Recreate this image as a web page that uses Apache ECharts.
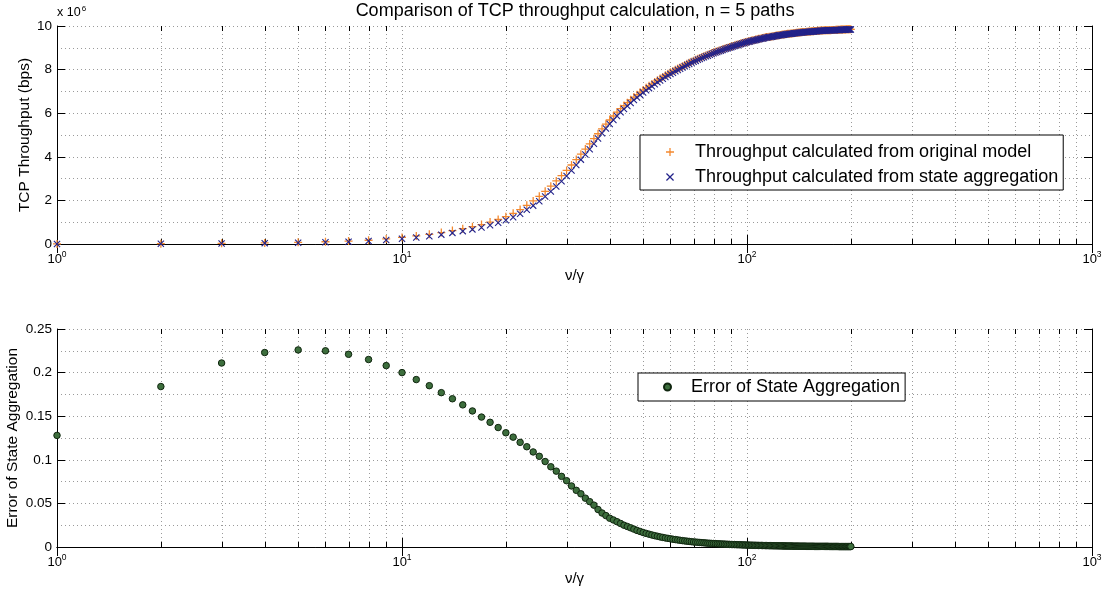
<!DOCTYPE html>
<html><head><meta charset="utf-8">
<script src="https://cdn.jsdelivr.net/npm/echarts@6/dist/echarts.min.js"></script>
<style>html,body{margin:0;padding:0;background:#fff}#c{width:1107px;height:592px}</style>
</head><body><div id="c"></div>
<script>
const xVals = [
1,2,3,4,5,6,7,8,9,10,11,12,13,14,15,16,17,18,19,20,
21,22,23,24,25,26,27,28,29,30,31,32,33,34,35,36,37,38,39,40,
41,42,43,44,45,46,47,48,49,50,51,52,53,54,55,56,57,58,59,60,
61,62,63,64,65,66,67,68,69,70,71,72,73,74,75,76,77,78,79,80,
81,82,83,84,85,86,87,88,89,90,91,92,93,94,95,96,97,98,99,100,
101,102,103,104,105,106,107,108,109,110,111,112,113,114,115,116,117,118,119,120,
121,122,123,124,125,126,127,128,129,130,131,132,133,134,135,136,137,138,139,140,
141,142,143,144,145,146,147,148,149,150,151,152,153,154,155,156,157,158,159,160,
161,162,163,164,165,166,167,168,169,170,171,172,173,174,175,176,177,178,179,180,
181,182,183,184,185,186,187,188,189,190,191,192,193,194,195,196,197,198,199,200];

// throughput in units of 10^6 bps
const thrOriginal = [
0.0034,0.0147,0.0317,0.0515,0.0749,0.103,0.135,0.172,0.234,0.300,
0.371,0.442,0.522,0.614,0.705,0.794,0.893,1.004,1.124,1.254,
1.407,1.580,1.774,1.975,2.188,2.417,2.654,2.892,3.134,3.377,
3.624,3.872,4.121,4.354,4.589,4.832,5.058,5.286,5.498,5.688,
5.872,6.045,6.208,6.349,6.482,6.616,6.738,6.850,6.964,7.067,
7.162,7.258,7.341,7.426,7.512,7.588,7.664,7.741,7.807,7.874,
7.931,7.988,8.045,8.102,8.159,8.207,8.265,8.313,8.361,8.409,
8.447,8.496,8.534,8.573,8.611,8.650,8.678,8.717,8.756,8.785,
8.814,8.843,8.872,8.901,8.930,8.960,8.988,9.008,9.037,9.056,
9.085,9.105,9.135,9.154,9.174,9.203,9.222,9.242,9.261,9.280,
9.30,9.31,9.33,9.35,9.36,9.38,9.39,9.41,9.42,9.44,
9.45,9.46,9.48,9.49,9.50,9.51,9.51,9.52,9.53,9.54,
9.55,9.56,9.57,9.58,9.59,9.60,9.61,9.61,9.62,9.63,
9.64,9.64,9.65,9.66,9.66,9.67,9.68,9.68,9.69,9.69,
9.70,9.70,9.71,9.71,9.72,9.72,9.73,9.73,9.74,9.74,
9.75,9.75,9.75,9.76,9.76,9.76,9.77,9.77,9.77,9.78,
9.78,9.78,9.79,9.79,9.79,9.79,9.80,9.80,9.80,9.80,
9.81,9.81,9.81,9.81,9.81,9.82,9.82,9.82,9.82,9.82,
9.83,9.83,9.83,9.83,9.83,9.83,9.84,9.84,9.84,9.84,
9.84,9.84,9.84,9.85,9.85,9.85,9.85,9.85,9.85,9.85];

const thrAggregated = [
0.003,0.012,0.025,0.040,0.058,0.080,0.105,0.135,0.185,0.24,
0.30,0.36,0.43,0.51,0.59,0.67,0.76,0.86,0.97,1.09,
1.23,1.39,1.57,1.76,1.96,2.18,2.41,2.64,2.88,3.12,
3.37,3.62,3.87,4.11,4.35,4.60,4.84,5.08,5.30,5.50,
5.69,5.87,6.04,6.19,6.33,6.47,6.60,6.72,6.84,6.95,
7.05,7.15,7.24,7.33,7.42,7.50,7.58,7.66,7.73,7.80,
7.86,7.92,7.98,8.04,8.10,8.15,8.21,8.26,8.31,8.36,
8.40,8.45,8.49,8.53,8.57,8.61,8.64,8.68,8.72,8.75,
8.78,8.81,8.84,8.87,8.90,8.93,8.96,8.98,9.01,9.03,
9.06,9.08,9.11,9.13,9.15,9.18,9.20,9.22,9.24,9.26,
9.28,9.29,9.31,9.33,9.34,9.36,9.37,9.39,9.40,9.42,
9.43,9.44,9.46,9.47,9.48,9.49,9.50,9.51,9.52,9.53,
9.54,9.55,9.56,9.57,9.58,9.59,9.60,9.60,9.61,9.62,
9.63,9.63,9.64,9.65,9.65,9.66,9.67,9.67,9.68,9.68,
9.69,9.69,9.70,9.70,9.71,9.71,9.72,9.72,9.73,9.73,
9.74,9.74,9.74,9.75,9.75,9.75,9.76,9.76,9.76,9.77,
9.77,9.77,9.78,9.78,9.78,9.78,9.79,9.79,9.79,9.79,
9.80,9.80,9.80,9.80,9.80,9.81,9.81,9.81,9.81,9.81,
9.82,9.82,9.82,9.82,9.82,9.82,9.83,9.83,9.83,9.83,
9.83,9.83,9.83,9.84,9.84,9.84,9.84,9.84,9.84,9.84];

const aggError = [
0.128,0.184,0.211,0.223,0.226,0.225,0.221,0.215,0.208,0.200,
0.192,0.185,0.177,0.170,0.163,0.156,0.149,0.143,0.137,0.131,
0.126,0.120,0.115,0.109,0.104,0.098,0.092,0.087,0.081,0.076,
0.070,0.065,0.061,0.056,0.052,0.048,0.043,0.039,0.036,0.033,
0.031,0.029,0.027,0.025,0.0235,0.022,0.0205,0.019,0.0178,0.0166,
0.0156,0.0147,0.0138,0.013,0.0123,0.0116,0.011,0.0104,0.0099,0.0094,
0.0089,0.0085,0.0081,0.0077,0.0073,0.007,0.0067,0.0064,0.0061,0.0058,
0.0056,0.0054,0.0052,0.005,0.0048,0.0046,0.0044,0.0043,0.0041,0.004,
0.0039,0.0037,0.0036,0.0035,0.0034,0.0033,0.0032,0.0031,0.003,0.0029,
0.0028,0.0028,0.0027,0.0026,0.0026,0.0025,0.0024,0.0024,0.0023,0.0022,
0.0022,0.0021,0.0021,0.0020,0.0020,0.0019,0.0019,0.0018,0.0018,0.0018,
0.0017,0.0017,0.0016,0.0016,0.0016,0.0015,0.0015,0.0015,0.0014,0.0014,
0.0014,0.0014,0.0013,0.0013,0.0013,0.0013,0.0012,0.0012,0.0012,0.0012,
0.0011,0.0011,0.0011,0.0011,0.0011,0.0010,0.0010,0.0010,0.0010,0.0010,
0.0010,0.0009,0.0009,0.0009,0.0009,0.0009,0.0009,0.0009,0.0008,0.0008,
0.0008,0.0008,0.0008,0.0008,0.0008,0.0008,0.0007,0.0007,0.0007,0.0007,
0.0007,0.0007,0.0007,0.0007,0.0007,0.0007,0.0007,0.0007,0.0007,0.0007,
0.0007,0.0007,0.0006,0.0006,0.0006,0.0006,0.0006,0.0006,0.0006,0.0006,
0.0006,0.0006,0.0006,0.0006,0.0005,0.0005,0.0005,0.0005,0.0005,0.0005,
0.0005,0.0005,0.0005,0.0005,0.0005,0.0005,0.0005,0.0005,0.0005,0.0005];

const xMajorTicks = [1, 10, 100, 1000];
const xMajorSup = ['0', '1', '2', '3'];
const xMinorTicks = [2,3,4,5,6,7,8,9,20,30,40,50,60,70,80,90,200,300,400,500,600,700,800,900];
const seriesNames = ['Throughput calculated from original model', 'Throughput calculated from state aggregation', 'Error of State Aggregation'];
const titleText = 'Comparison of TCP throughput calculation, n = 5 paths';

const F = '"Liberation Sans", Arial, Helvetica, sans-serif';
const GRID_DOT = {color: '#9a9a9a', width: 1, type: [1, 3]};

const chart = echarts.init(document.getElementById('c'), null, {renderer: 'canvas'});

function xLabelFmt(v) {
  let i = 0;
  for (let k = 0; k < xMajorTicks.length; k++) if (Math.abs(v - xMajorTicks[k]) / xMajorTicks[k] < 1e-6) i = k;
  return '{b|10}{s|' + xMajorSup[i] + '}';
}
const xRich = {
  b: {fontSize: 13, fontFamily: F, color: '#000', lineHeight: 16},
  s: {fontSize: 8.5, fontFamily: F, color: '#000', padding: [0, 0, 8, 0], lineHeight: 16}
};

function minorRender(params, api) {
  const cs = params.coordSys;
  const px = Math.round(api.coord([api.value(0), api.value(1)])[0]) + 0.5;
  const y0 = cs.y, y1 = cs.y + cs.height;
  return {type: 'group', children: [
    {type: 'line', shape: {x1: px, y1: y0, x2: px, y2: y1}, style: {stroke: '#9a9a9a', lineWidth: 1, lineDash: [1, 3]}},
    {type: 'line', shape: {x1: px, y1: y1, x2: px, y2: y1 - 5}, style: {stroke: '#000', lineWidth: 1}},
    {type: 'line', shape: {x1: px, y1: y0, x2: px, y2: y0 + 5}, style: {stroke: '#000', lineWidth: 1}}
  ]};
}

function bottomX(gi) {
  return {
    type: 'log', logBase: 10, gridIndex: gi, min: 1, max: 1000, position: 'bottom',
    name: 'ν/γ', nameLocation: 'middle', nameGap: 24, nameMoveOverlap: false,
    nameTextStyle: {fontSize: 15, fontFamily: F, color: '#000'},
    axisLine: {show: true, lineStyle: {color: '#000', width: 1}},
    axisTick: {show: true, inside: true, length: 9, lineStyle: {color: '#000'}},
    axisLabel: {show: true, margin: 7, formatter: xLabelFmt, rich: xRich},
    splitLine: {show: true, lineStyle: GRID_DOT}
  };
}
function topX(gi) {
  return {
    type: 'log', logBase: 10, gridIndex: gi, min: 1, max: 1000, position: 'top',
    axisLine: {show: true, lineStyle: {color: '#000', width: 1}},
    axisTick: {show: true, inside: true, length: 9, lineStyle: {color: '#000'}},
    axisLabel: {show: false}, splitLine: {show: false}
  };
}
function leftY(gi, max, interval, name, gap) {
  return {
    type: 'value', gridIndex: gi, min: 0, max: max, interval: interval, position: 'left',
    name: name, nameLocation: 'middle', nameRotate: 90, nameGap: gap, nameMoveOverlap: false,
    nameTextStyle: {fontSize: 15.5, fontFamily: F, color: '#000'},
    axisLine: {show: true, lineStyle: {color: '#000', width: 1}},
    axisTick: {show: true, inside: true, length: 8, lineStyle: {color: '#000'}},
    axisLabel: {show: true, fontSize: 13.5, fontFamily: F, color: '#000', margin: 5},
    splitLine: {show: true, lineStyle: GRID_DOT},
    minorTick: {show: false, splitNumber: 2},
    minorSplitLine: {show: true, lineStyle: GRID_DOT}
  };
}
function rightY(gi, max, interval) {
  return {
    type: 'value', gridIndex: gi, min: 0, max: max, interval: interval, position: 'right',
    axisLine: {show: true, lineStyle: {color: '#000', width: 1}},
    axisTick: {show: true, inside: true, length: 8, lineStyle: {color: '#000'}},
    axisLabel: {show: false}, splitLine: {show: false}
  };
}

const plusPath = 'path://M0,4.2L10,4.2L10,5.8L0,5.8Z M4.2,0L5.8,0L5.8,10L4.2,10Z';
const crossPath = 'path://M0,1.1L1.1,0L10,8.9L8.9,10Z M8.9,0L10,1.1L1.1,10L0,8.9Z';

const option = {
  animation: false,
  backgroundColor: '#fff',
  textStyle: {fontFamily: F},
  grid: [
    {left: 57, right: 15, top: 26, height: 218, containLabel: false, outerBoundsMode: 'none'},
    {left: 57, right: 15, top: 329, height: 218, containLabel: false, outerBoundsMode: 'none'}
  ],
  xAxis: [bottomX(0), topX(0), bottomX(1), topX(1)],
  yAxis: [
    leftY(0, 10, 2, 'TCP Throughput (bps)', 24),
    rightY(0, 10, 2),
    leftY(1, 0.25, 0.05, 'Error of State Aggregation', 36),
    rightY(1, 0.25, 0.05)
  ],
  legend: [
    {
      data: [seriesNames[0], seriesNames[1]],
      orient: 'vertical', left: 640, top: 135,
      padding: [7, 5, 3, 26], itemWidth: 8, itemHeight: 8, itemGap: 5,
      borderColor: '#000', borderWidth: 1, backgroundColor: '#fff', borderRadius: 0,
      textStyle: {fontSize: 18, fontFamily: F, color: '#000', lineHeight: 20, padding: [0, 0, 0, 16]}
    },
    {
      data: [seriesNames[2]],
      orient: 'vertical', left: 638, top: 373,
      padding: [4, 5, 4, 25], itemWidth: 7, itemHeight: 7,
      borderColor: '#000', borderWidth: 1, backgroundColor: '#fff', borderRadius: 0,
      textStyle: {fontSize: 18, fontFamily: F, color: '#000', lineHeight: 20, padding: [0, 0, 0, 15]}
    }
  ],
  graphic: [
    {type: 'text', x: 575, y: 11, z: 100,
      style: {text: titleText, fontSize: 18, fontFamily: F, fill: '#000', align: 'center', verticalAlign: 'middle'}},
    {type: 'text', x: 57, y: 5, z: 100,
      style: {text: '{a|x 10}{b|6}', rich: {
        a: {fontSize: 12.5, fontFamily: F, fill: '#000', color: '#000', lineHeight: 15},
        b: {fontSize: 8, fontFamily: F, fill: '#000', color: '#000', padding: [0, 0, 7, 1], lineHeight: 15}
      }}}
  ],
  series: [
    {type: 'custom', name: 'minor-top', xAxisIndex: 0, yAxisIndex: 0, z: 1, silent: true,
      renderItem: minorRender, data: xMinorTicks.map(v => [v, 5]), clip: false},
    {type: 'custom', name: 'minor-bottom', xAxisIndex: 2, yAxisIndex: 2, z: 1, silent: true,
      renderItem: minorRender, data: xMinorTicks.map(v => [v, 0.1]), clip: false},
    {type: 'scatter', name: seriesNames[0], xAxisIndex: 0, yAxisIndex: 0, z: 3,
      symbol: plusPath, symbolSize: 8, clip: false,
      itemStyle: {color: '#f4892f', opacity: 1},
      data: xVals.map((x, i) => [x, thrOriginal[i]])},
    {type: 'scatter', name: seriesNames[1], xAxisIndex: 0, yAxisIndex: 0, z: 4,
      symbol: crossPath, symbolSize: 7, clip: false,
      itemStyle: {color: '#22228a', opacity: 1},
      data: xVals.map((x, i) => [x, thrAggregated[i]])},
    {type: 'scatter', name: seriesNames[2], xAxisIndex: 2, yAxisIndex: 2, z: 3,
      symbol: 'circle', symbolSize: 6.5, clip: false,
      itemStyle: {color: '#3d6e3d', borderColor: '#10260f', borderWidth: 1, opacity: 1},
      data: xVals.map((x, i) => [x, aggError[i]])}
  ]
};
chart.setOption(option);
</script>
</body></html>
